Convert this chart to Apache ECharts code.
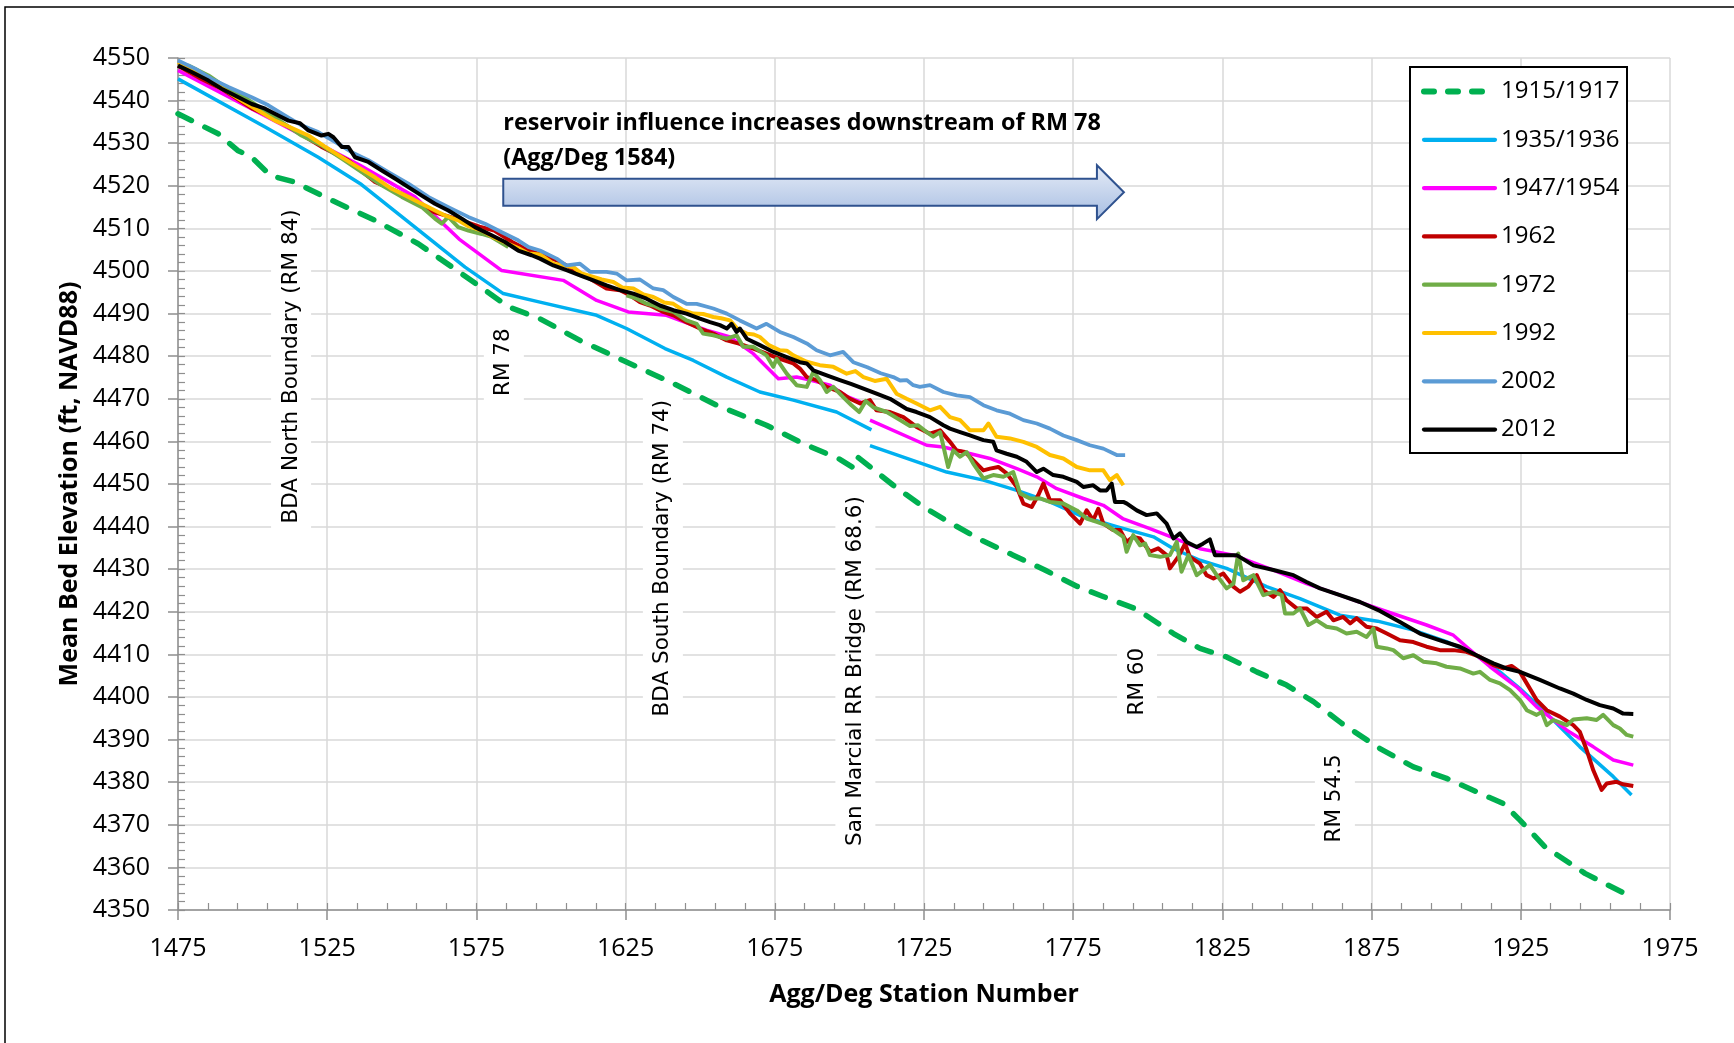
<!DOCTYPE html>
<html><head><meta charset="utf-8">
<script src="https://cdn.jsdelivr.net/npm/echarts@6/dist/echarts.min.js"></script>
<style>html,body{margin:0;padding:0;background:#fff}#c{width:1734px;height:1043px}</style>
</head><body><div id="c"></div>
<script>
// ---------- DATA (station, mean bed elevation) ----------
const seriesNames = ['1915/1917','1935/1936','1947/1954','1962','1972','1992','2002','2012'];

const s1915a = [[1475,4536.9],[1488.5,4532.2],[1495,4528.3],[1499.7,4526.7],[1506,4522.4],[1514,4520.9],[1526.5,4516.6],[1541,4511.9],[1555.5,4506.4],[1566.7,4501],[1577.9,4495.5],[1585.7,4491.6],[1596.3,4488.8],[1609.7,4483.7],[1624.2,4479],[1641,4473.6],[1655.5,4468.5],[1672.2,4463.8],[1684.5,4459.5],[1696.8,4455.8],[1702.3,4453.4]];
const s1915b = [[1703,4456.2],[1714.7,4449.7],[1724.8,4444.6],[1734.3,4440.7],[1744.3,4436.8],[1754.9,4433.3],[1765.5,4429.8],[1776.2,4426],[1785,4423.6],[1796.3,4420.6],[1808.6,4414.9],[1817.5,4411.4],[1826.4,4409.4],[1836.5,4405.9],[1846.5,4402.8],[1855.5,4398.9],[1865,4393.8],[1877.8,4387.9],[1889,4383.6],[1900.1,4380.9],[1911.3,4377.4],[1919.1,4375],[1924.7,4371.1],[1933,4364.9],[1946.5,4358.6],[1962.8,4352.8]];

const s1935a = [[1475,4545.1],[1504.2,4533.8],[1522,4526.7],[1536.5,4520.3],[1554.4,4510.3],[1571.2,4500.9],[1584,4494.7],[1596.3,4492.7],[1615.3,4489.6],[1625.3,4486.5],[1638.2,4481.8],[1647.7,4479],[1658.9,4475.1],[1670,4471.6],[1681.2,4469.7],[1695.7,4466.9],[1707.4,4462.7]];
const s1935b = [[1706.9,4459],[1732.6,4452.8],[1744.9,4450.9],[1756.1,4448.5],[1767.2,4445.8],[1778.4,4442.3],[1789.6,4440],[1801.9,4437.6],[1808.6,4434.8],[1817.5,4432.1],[1826.4,4430.2],[1839.8,4425.9],[1851,4423.1],[1864.4,4419.2],[1877,4417.8],[1889,4415.7],[1900.1,4413],[1909.1,4410.2],[1918,4405.9],[1924.7,4402],[1933.7,4396.1],[1944.8,4388.3],[1956,4381.3],[1962.1,4377]];

const s1947a = [[1475,4547.1],[1536,4524.8],[1554.4,4517.4],[1569.2,4507.5],[1583.5,4500.1],[1604.1,4497.8],[1615.3,4493.1],[1625.9,4490.4],[1638.7,4489.6],[1643.2,4488.4],[1652.1,4486.1],[1660,4484.5],[1667.8,4480.6],[1676.2,4474.7],[1682.3,4475.1],[1686.8,4474.4],[1693.5,4473.2],[1699.1,4470.6],[1703.8,4469.2]];
const s1947b = [[1706.9,4465],[1725.9,4459.1],[1731.5,4458.7],[1738.2,4457.5],[1747.1,4456],[1756.1,4453.6],[1762.8,4451.7],[1769.5,4448.9],[1778.4,4446.6],[1785.1,4445],[1791.8,4441.8],[1800.7,4439.5],[1806.3,4438],[1817.5,4434.8],[1828.7,4433.3],[1842.1,4429.8],[1853.2,4426.6],[1864.4,4423.9],[1877.8,4420.6],[1893.4,4416.9],[1902.4,4414.5],[1906.8,4411.8],[1914.7,4407.1],[1923.6,4402.4],[1930.3,4397.7],[1940.4,4392.2],[1949.3,4388.3],[1956,4385.2],[1962.7,4384]];

const s1962 = [[1475,4548.2],[1483,4545],[1490,4542.6],[1500,4538.1],[1507,4535.9],[1515,4532.6],[1523,4529.2],[1532,4526],[1541,4520.9],[1547,4519.1],[1552,4517.4],[1560,4514],[1570,4511.9],[1576,4510.4],[1581,4509.5],[1587,4506.8],[1592,4505],[1597,4503.7],[1602,4502.5],[1607,4500.6],[1613.1,4498.2],[1618.6,4495.9],[1623.1,4495.5],[1626.5,4494.3],[1629.8,4492.7],[1633.2,4491.9],[1637.6,4490.4],[1641,4489.6],[1645.4,4488],[1649.9,4486.5],[1654.4,4485.3],[1658.9,4483.7],[1663.3,4482.9],[1667.8,4481.8],[1672.2,4480.6],[1676.7,4479.4],[1681.2,4478.3],[1683.4,4477.1],[1685.7,4475.1],[1689,4474.4],[1692.4,4472.8],[1696.8,4471.6],[1700.2,4470],[1703.6,4468.9],[1706.9,4469.7],[1709.1,4467.3],[1713.6,4466.9],[1718.1,4465.7],[1722.5,4463.4],[1727,4461.8],[1730.4,4462.6],[1733.7,4459.9],[1735.9,4457.9],[1738.7,4457.5],[1741.5,4455.6],[1744.9,4453.2],[1747.1,4453.6],[1749.9,4454],[1752.7,4452.5],[1756.1,4449.3],[1758.3,4445.4],[1761.1,4444.6],[1763.3,4447.4],[1765,4450.1],[1767.2,4446.2],[1770.6,4446.2],[1773.9,4443.1],[1777.3,4440.7],[1779.5,4443.8],[1781.7,4441.5],[1783.4,4444.2],[1785.1,4440.7],[1788.4,4439.2],[1790.7,4439.2],[1792.9,4436.4],[1795.1,4437.6],[1797.4,4437.2],[1800.7,4434.1],[1803.5,4434.9],[1806.3,4433.3],[1807.4,4430.2],[1810.2,4432.9],[1812.5,4436],[1814.1,4432.9],[1817.5,4431.3],[1819.7,4428.6],[1822,4427.8],[1825.3,4429],[1828.7,4425.9],[1830.9,4424.7],[1833.7,4425.9],[1836.5,4428.6],[1838.7,4425.1],[1842.1,4423.5],[1844.3,4425.1],[1846.5,4422.7],[1849.9,4420.8],[1853.2,4420.8],[1856.6,4418.8],[1859.9,4420],[1862.2,4418],[1865.5,4418.8],[1867.8,4417.3],[1870,4418.5],[1873.3,4416.5],[1876.7,4416.1],[1880.1,4414.9],[1884.5,4413.3],[1889,4412.9],[1893.4,4411.8],[1897.9,4411],[1902.4,4411],[1906.8,4410.6],[1911.3,4409.4],[1915.8,4407.5],[1919.1,4406.7],[1921.9,4407.3],[1924.7,4405.9],[1927,4403.2],[1930.3,4399.3],[1933.7,4396.9],[1938.1,4395.4],[1942.6,4393.4],[1944.8,4391.8],[1947.1,4387.5],[1949.3,4382.8],[1952.1,4378.2],[1953.8,4379.7],[1957.1,4380.1],[1959.3,4379.5],[1962.7,4379.1]];

const s1972a = [[1475,4548.6],[1478.5,4548.2],[1485.2,4545.9],[1490.8,4543.2],[1496.3,4541.2],[1503,4538.1],[1509.7,4535],[1516.4,4531.8],[1523.1,4529.5],[1529.9,4526.4],[1536.6,4523.2],[1543.3,4520.1],[1550,4517.4],[1556.7,4515],[1561.1,4512.3],[1563.4,4511.1],[1565.6,4512.7],[1568.9,4510.3],[1572.3,4509.5],[1576.8,4508.7],[1580.1,4508],[1582.9,4506.8],[1585.7,4505.6]];
const s1972b = [[1625.3,4494.3],[1628.7,4493.5],[1632,4492.3],[1634.3,4491.9],[1636.5,4491.2],[1641,4490.4],[1645.4,4488.4],[1648.8,4487.6],[1651,4485.3],[1654.4,4484.9],[1658.9,4484.1],[1662.2,4484.9],[1664.4,4482.2],[1667.8,4482.2],[1672.2,4480.2],[1674.5,4477.5],[1675.6,4479.4],[1679,4475.9],[1682.3,4473.2],[1685.7,4472.8],[1687.9,4476.3],[1690.1,4474.4],[1692.4,4471.6],[1694.6,4472.8],[1697.9,4470.4],[1700.7,4468.5],[1703.3,4466.9],[1705.5,4469.5],[1708,4468],[1712.5,4466.9],[1717,4465],[1720.3,4463.6],[1723,4463.8],[1725.9,4462.2],[1728.1,4461.1],[1730.4,4462.2],[1733.1,4454],[1734.8,4457.9],[1737.1,4456.4],[1739.3,4457.5],[1741.5,4454.8],[1744.9,4451.3],[1748.2,4452.1],[1751.6,4451.7],[1754.9,4452.8],[1757.2,4447.8],[1760.5,4446.6],[1763.9,4446.6],[1767.2,4445.8],[1771.7,4445.4],[1776.2,4443.8],[1779.5,4441.9],[1782.9,4441.1],[1786.2,4440.3],[1788.5,4439.2],[1791.8,4437.6],[1792.9,4434.1],[1795.1,4438],[1797.4,4435.6],[1799.1,4436],[1800.7,4433.3],[1804.1,4432.9],[1807.4,4433.3],[1809.7,4436.4],[1811.3,4429.4],[1813.6,4433.3],[1816.4,4428.6],[1818.6,4429.8],[1820.8,4431],[1823.1,4428.6],[1826.4,4425.5],[1828.7,4426.6],[1830.3,4433.7],[1832,4427.4],[1835.4,4428.6],[1838.7,4423.9],[1842.1,4424.7],[1844.9,4423.9],[1846,4419.6],[1848.8,4419.6],[1851,4420.8],[1853.8,4416.9],[1856.6,4418],[1859.9,4416.5],[1863.3,4416.1],[1866.6,4414.9],[1870,4415.3],[1873.3,4414.1],[1875.6,4416.1],[1876.7,4411.8],[1880.1,4411.4],[1882.3,4411],[1885.6,4409.1],[1889,4409.8],[1892.3,4408.3],[1896.8,4407.9],[1900.1,4407.1],[1904.6,4406.7],[1909.1,4405.5],[1911.3,4405.9],[1914.7,4404],[1918,4403.2],[1921.4,4401.6],[1924.7,4399.3],[1927,4396.9],[1930.3,4395.8],[1932,4396.5],[1933.7,4393.4],[1935.9,4394.6],[1940.4,4393.4],[1942.6,4394.7],[1947.1,4395],[1950.4,4394.6],[1952.6,4395.8],[1956,4393.4],[1958.2,4392.6],[1960.5,4391.1],[1962.7,4390.7]];

const s1992 = [[1475,4549],[1480,4547.2],[1485.2,4545.1],[1490,4542.8],[1496.3,4540],[1502,4537.6],[1507.5,4535.3],[1513,4533.6],[1518.7,4531.8],[1524,4529.3],[1529.9,4526.7],[1535,4524.5],[1541,4522],[1546.6,4519.3],[1552.2,4517.4],[1556,4516],[1560,4514.6],[1564,4513.2],[1568.9,4511.9],[1572,4510.6],[1576.8,4509.5],[1581,4507.8],[1585.7,4506.4],[1589,4505.4],[1592.4,4504.1],[1596.3,4503.9],[1600.8,4501.7],[1603,4501.5],[1607.5,4500.9],[1610,4499.5],[1614.2,4498.6],[1617,4498],[1620.9,4497.4],[1624,4496.1],[1627.6,4495.9],[1631,4494.5],[1634.3,4493.9],[1638,4492.6],[1641,4492.3],[1644,4490.9],[1647.7,4490],[1651,4489.9],[1654.4,4489.2],[1657,4488.9],[1660,4488.4],[1662.5,4486.4],[1665.6,4485.3],[1668,4485.1],[1670,4484.5],[1673,4482.6],[1676.7,4481.4],[1679,4481.3],[1681.2,4480.2],[1685.7,4478.7],[1690.1,4477.9],[1694.6,4477.5],[1699.1,4475.9],[1702,4476.5],[1704.7,4475.1],[1708.5,4474.2],[1712.5,4474.7],[1715.8,4471.2],[1719.2,4470],[1722.5,4468.9],[1727,4467.3],[1730.4,4468.1],[1733.7,4465.7],[1737.1,4465],[1740.4,4462.6],[1744.9,4462.6],[1746.6,4464.2],[1749.3,4461.1],[1753.8,4460.7],[1758.3,4459.9],[1762.8,4458.7],[1767.2,4456.8],[1771.7,4456],[1776.2,4454],[1780.6,4453.2],[1785.1,4453.2],[1787.3,4450.9],[1789.6,4452.1],[1791.8,4449.7]];

const s2002 = [[1475,4549.4],[1480.7,4547.5],[1486.3,4545.1],[1491.9,4543.2],[1499.7,4540.8],[1505.3,4538.9],[1510.9,4536.5],[1516.4,4534.2],[1522,4532.6],[1527.6,4530.3],[1533.2,4527.9],[1538.8,4526],[1545.5,4523.2],[1552.2,4520.5],[1558.9,4517.4],[1565.6,4515],[1572.3,4512.7],[1577.9,4511.1],[1583.5,4509.1],[1589,4507.2],[1592.5,4505.6],[1596.3,4504.8],[1601.9,4502.9],[1605.2,4501.3],[1609.7,4501.7],[1613.1,4499.8],[1618.6,4499.8],[1622,4499.4],[1625.3,4497.8],[1629.8,4498],[1634.3,4495.9],[1637.6,4495.5],[1641,4493.9],[1645.4,4492.3],[1648.8,4492.3],[1654.4,4491.2],[1658.9,4490],[1663.3,4488.4],[1668.9,4486.5],[1672.2,4487.6],[1676.7,4485.7],[1681.2,4484.5],[1685.7,4483],[1689,4481.4],[1693.5,4480.2],[1697.9,4481],[1701.3,4478.6],[1706,4477.4],[1710.5,4476],[1714.7,4475.1],[1717,4474.3],[1719.2,4474.4],[1721.4,4473.2],[1723.6,4472.8],[1727,4473.2],[1731.5,4471.6],[1736,4470.8],[1740.4,4470.4],[1744.9,4468.5],[1749.3,4467.3],[1753.8,4466.5],[1758.3,4465],[1762.8,4464.2],[1767.2,4463],[1771.7,4461.4],[1776.2,4460.3],[1780.6,4459.1],[1785.1,4458.3],[1789.6,4456.8],[1792.4,4456.8]];

const s2012 = [[1475,4548.2],[1479.6,4546.7],[1485.2,4544.7],[1489.6,4542.8],[1494.1,4541.2],[1499.7,4539.2],[1504.2,4538.1],[1508.6,4536.5],[1512,4535.3],[1515.9,4534.7],[1518.7,4533],[1523.1,4531.8],[1525.4,4532.2],[1527.1,4531.4],[1529.9,4529.1],[1532.1,4529.1],[1534.3,4526.7],[1538.8,4525.6],[1543.3,4523.6],[1547.7,4521.7],[1552.2,4519.7],[1556.7,4517.7],[1561.1,4515.8],[1565.6,4514.2],[1570.1,4512.3],[1574.5,4510.3],[1580.1,4508.4],[1584.6,4506.8],[1589,4504.8],[1593.5,4503.7],[1596.3,4502.9],[1600.8,4501.3],[1605.2,4500.2],[1609.7,4499],[1614.2,4497.8],[1618.6,4496.6],[1623.1,4495.5],[1627.6,4494.7],[1632,4493.5],[1636.5,4491.9],[1641,4490.8],[1645.4,4490],[1649.9,4488.8],[1653.3,4488],[1656.6,4487.3],[1658.9,4486.5],[1660.5,4487.6],[1662.2,4485.7],[1663.3,4486.5],[1665.6,4484.1],[1670,4482.6],[1674.5,4481],[1679,4479.8],[1683.4,4478.6],[1685.7,4478.3],[1687.9,4476.7],[1692.4,4475.5],[1696.8,4474.4],[1700.5,4473.5],[1704.7,4472.4],[1709.1,4471.2],[1713.6,4470],[1716.9,4468.6],[1719.2,4467.6],[1722.5,4466.9],[1727,4465.7],[1731.5,4463.8],[1733.7,4463],[1737.1,4462.2],[1740.4,4461.4],[1744.9,4460.3],[1748.2,4459.9],[1749.3,4457.9],[1752.7,4457.1],[1756.1,4456.4],[1759.4,4455.2],[1762.8,4452.8],[1765,4453.6],[1768.3,4452.1],[1771.7,4451.7],[1776.2,4450.5],[1778.4,4449.3],[1781.7,4449.7],[1784,4448.5],[1786.2,4448.5],[1787.9,4450.1],[1789,4445.8],[1791.8,4445.8],[1793,4445.4],[1796.3,4443.8],[1799.6,4442.7],[1803,4443.1],[1806.3,4440.7],[1808.6,4437.2],[1810.8,4438.4],[1813,4436.4],[1816.4,4435.2],[1818.5,4436],[1820.8,4437],[1822.5,4433.3],[1825.3,4433.3],[1829.8,4433.3],[1835.4,4430.9],[1842.1,4429.8],[1848.8,4428.6],[1853.2,4427],[1857.7,4425.5],[1864.4,4423.9],[1871.1,4422.3],[1877.8,4420.2],[1884.5,4417.6],[1891.2,4414.9],[1897.9,4413.3],[1904.6,4411.8],[1911.3,4409.4],[1915.8,4407.9],[1920.2,4406.7],[1924.7,4405.9],[1931.4,4404],[1938.1,4402],[1942.6,4400.8],[1947.1,4399.3],[1951.5,4398.1],[1956,4397.3],[1959.3,4396.1],[1962.7,4396]];

// landmark labels: [text, station, elevation at label centre]
const landmarkText = ['BDA North Boundary (RM 84)','RM 78','BDA South Boundary (RM 74)','San Marcial RR Bridge (RM 68.6)','RM 60','RM 54.5'];
const landmarkStation = [1512.9, 1584.2, 1637.5, 1702.0, 1796.4, 1862.7];
const landmarkElev = [4477.6, 4478.6, 4432.6, 4406.1, 4403.6, 4376.2];

const noteText = 'reservoir influence increases downstream of RM 78\n(Agg/Deg 1584)';
const arrowFrom = 1584, arrowTo = 1792, arrowElev = 4518.5;

// ---------- CHART ----------
const FONT = '"Open Sans", "Noto Sans", sans-serif';
const chart = echarts.init(document.getElementById('c'), null, {renderer: 'canvas'});
const colors = ['#00b050','#00b0f0','#ff00ff','#c00000','#70ad47','#ffc000','#5b9bd5','#000000'];

function mk(name, data, idx, width, dashed) {
  return {
    type: 'line', name: name, data: data, symbol: 'none', showSymbol: false,
    connectNulls: false, animation: false, silent: true,
    lineStyle: {color: colors[idx], width: width, type: dashed ? [15, 15] : 'solid',
      cap: dashed ? 'round' : 'butt', join: 'round'},
    itemStyle: {color: colors[idx]},
    emphasis: {disabled: true}
  };
}

const axisGray = '#8f8f8f';
const plain = v => String(v);
const legendData = seriesNames.map((n, i) => ({
  name: n,
  lineStyle: i === 0 ? {width: 6, type: [10, 14], cap: 'round', color: colors[0]} : {width: 4.2, color: colors[i], cap: 'round'}
}));
const option = {
  animation: false,
  backgroundColor: '#fff',
  grid: {left: 178, top: 58, width: 1492, height: 852, containLabel: false},
  xAxis: [{
    type: 'value', min: 1475, max: 1975, interval: 50,
    name: 'Agg/Deg Station Number', nameLocation: 'middle', nameGap: 72,
    nameTextStyle: {fontFamily: FONT, fontSize: 25, fontWeight: 'bold', color: '#000'},
    axisLine: {show: true, onZero: false, lineStyle: {color: axisGray, width: 1.5}},
    axisTick: {show: true, inside: false, length: 10, lineStyle: {color: axisGray, width: 1.5}},
    axisLabel: {fontFamily: FONT, fontSize: 25, color: '#000', margin: 26, formatter: plain},
    splitLine: {show: true, lineStyle: {color: '#d9d9d9', width: 1.5}}
  }, {
    type: 'value', min: 1475, max: 1975, interval: 10, position: 'bottom', offset: 0,
    axisLine: {show: false}, axisLabel: {show: false}, splitLine: {show: false},
    axisTick: {show: true, inside: true, length: 7, lineStyle: {color: axisGray, width: 1.2}}
  }],
  yAxis: [{
    type: 'value', min: 4350, max: 4550, interval: 10,
    name: 'Mean Bed Elevation (ft, NAVD88)', nameLocation: 'middle', nameGap: 95, nameRotate: 90,
    nameTextStyle: {fontFamily: FONT, fontSize: 25, fontWeight: 'bold', color: '#000'},
    axisLine: {show: true, onZero: false, lineStyle: {color: axisGray, width: 1.5}},
    axisTick: {show: true, inside: false, length: 10, lineStyle: {color: axisGray, width: 1.5}},
    axisLabel: {fontFamily: FONT, fontSize: 25, color: '#000', margin: 28, formatter: plain},
    splitLine: {show: true, lineStyle: {color: '#d9d9d9', width: 1.5}}
  }, {
    type: 'value', min: 4350, max: 4550, interval: 2, position: 'left', offset: 0,
    axisLine: {show: false}, axisLabel: {show: false}, splitLine: {show: false},
    axisTick: {show: true, inside: true, length: 7, lineStyle: {color: axisGray, width: 1.2}}
  }],
  legend: {
    orient: 'vertical', left: 1421, top: 79.5, padding: 0,
    itemWidth: 71, itemHeight: 24, itemGap: 24.3, selectedMode: false,
    data: legendData,
    itemStyle: {opacity: 0},
    lineStyle: {width: 4.2},
    textStyle: {fontFamily: FONT, fontSize: 24, color: '#000', padding: [0, 0, 0, 1]},
    z: 6
  },
  series: [
    mk(seriesNames[0], s1915a, 0, 5.5, true),
    mk(seriesNames[0], s1915b, 0, 5.5, true),
    mk(seriesNames[1], s1935a, 1, 3.5, false),
    mk(seriesNames[1], s1935b, 1, 3.5, false),
    mk(seriesNames[2], s1947a, 2, 3.5, false),
    mk(seriesNames[2], s1947b, 2, 3.5, false),
    mk(seriesNames[3], s1962, 3, 4, false),
    mk(seriesNames[4], s1972a, 4, 4, false),
    mk(seriesNames[4], s1972b, 4, 4, false),
    mk(seriesNames[5], s1992, 5, 4, false),
    mk(seriesNames[6], s2002, 6, 3.8, false),
    mk(seriesNames[7], s2012, 7, 4, false)
  ]
};
chart.setOption(option);

// ---------- ANNOTATIONS ----------
const px = (s, e) => chart.convertToPixel({gridIndex: 0}, [s, e]);
const graphics = [];
graphics.push({type: 'rect', z: 0, silent: true, shape: {x: 5, y: 7, width: 1760, height: 1080},
  style: {fill: 'none', stroke: '#000', lineWidth: 1.5}});
graphics.push({type: 'rect', z: 5, silent: true, shape: {x: 1410, y: 67, width: 217, height: 386},
  style: {fill: '#fff', stroke: '#000', lineWidth: 2}});
landmarkText.forEach((t, i) => {
  const p = px(landmarkStation[i], landmarkElev[i]);
  graphics.push({type: 'text', z: 1, silent: true, x: p[0], y: p[1], rotation: Math.PI / 2,
    style: {text: t, fontFamily: '"DejaVu Sans", sans-serif', fontSize: 21.5, fill: '#000',
      backgroundColor: '#fff', padding: [9, 8], align: 'center', verticalAlign: 'middle'}});
});
const pn = px(arrowFrom, 4530.5);
graphics.push({type: 'text', z: 3, silent: true, x: pn[0], y: pn[1],
  style: {text: noteText, fontFamily: FONT, fontSize: 23.4, fontWeight: 'bold', fill: '#000',
    lineHeight: 35, align: 'left', verticalAlign: 'middle'}});
const a0 = px(arrowFrom, arrowElev), a1 = px(arrowTo, arrowElev);
const bh = 13.5, hh = 27, hl = 27;
graphics.push({type: 'polygon', z: 3, silent: true,
  shape: {points: [[a0[0], a0[1] - bh], [a1[0] - hl, a0[1] - bh], [a1[0] - hl, a0[1] - hh], [a1[0], a0[1]],
    [a1[0] - hl, a0[1] + hh], [a1[0] - hl, a0[1] + bh], [a0[0], a0[1] + bh]]},
  style: {fill: new echarts.graphic.LinearGradient(0, 0, 0, 1, [{offset: 0, color: '#e6ecf7'}, {offset: 1, color: '#a6bde2'}]),
    stroke: '#2f528f', lineWidth: 2}});
chart.setOption({graphic: graphics});
</script></body></html>
